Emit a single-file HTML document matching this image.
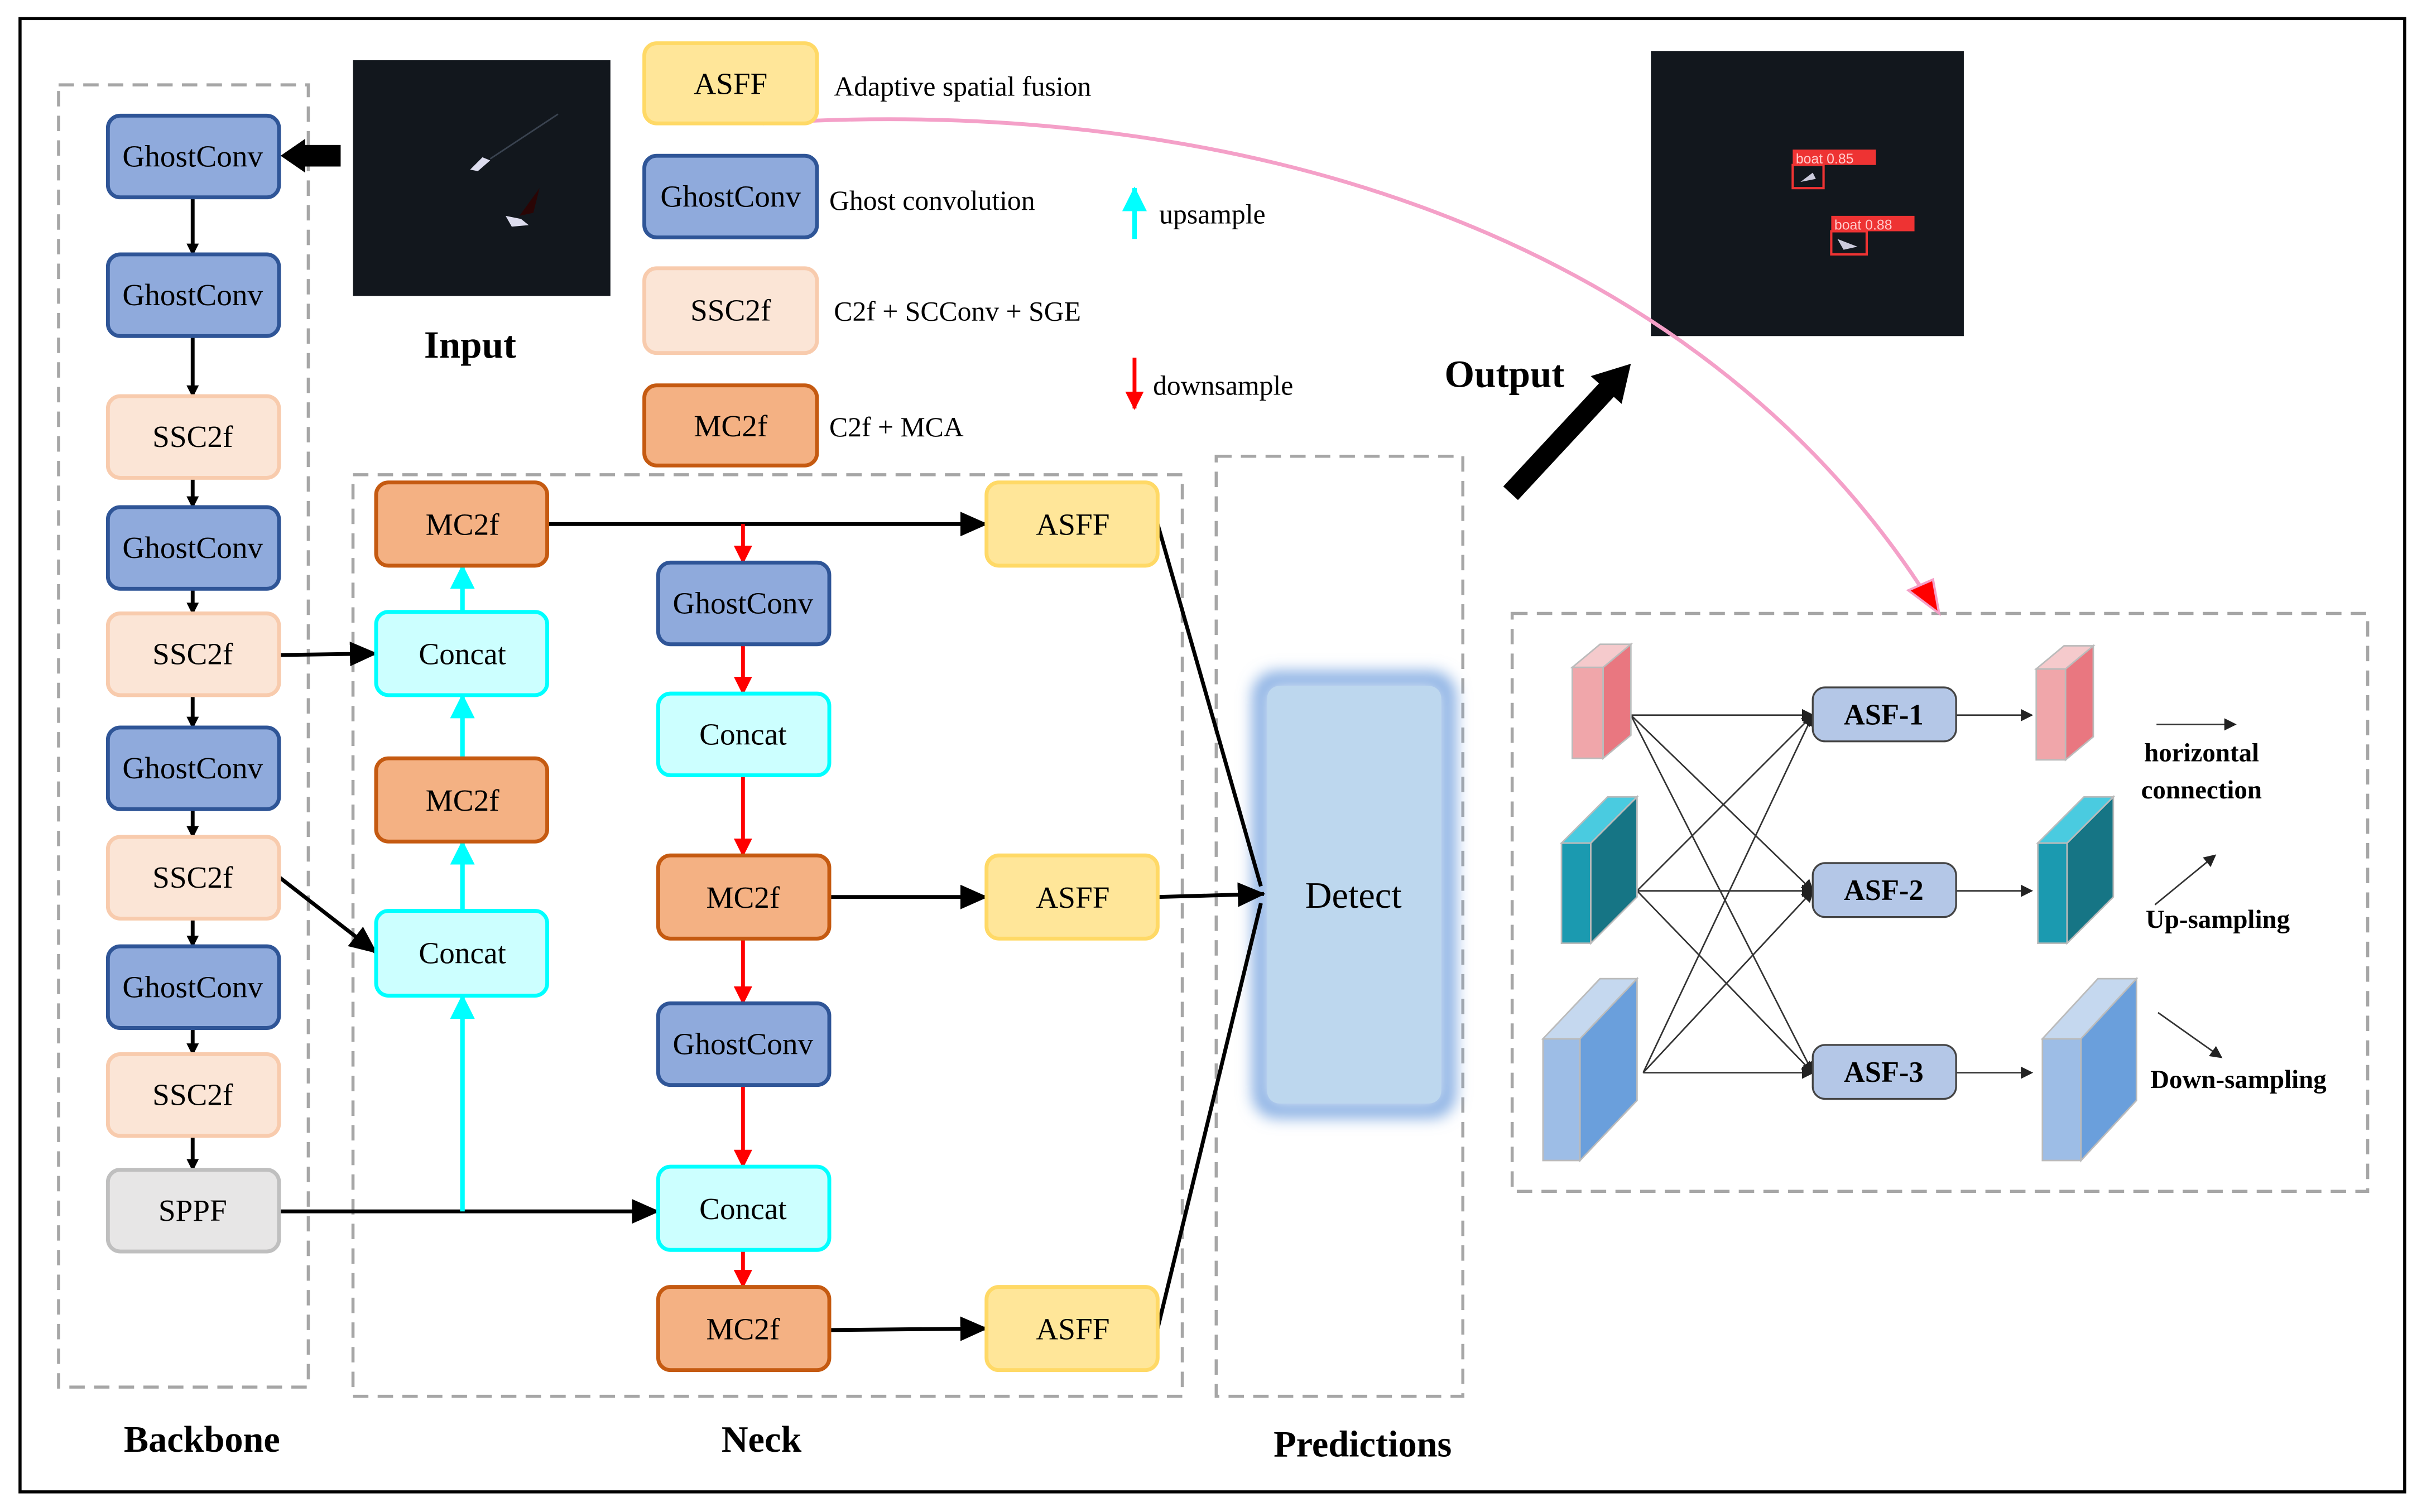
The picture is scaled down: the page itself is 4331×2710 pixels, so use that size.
<!DOCTYPE html>
<html><head><meta charset="utf-8"><style>html,body{margin:0;padding:0;background:#fff}svg{display:block}</style></head><body>
<svg width="4331" height="2710" viewBox="0 0 1568 981" xmlns="http://www.w3.org/2000/svg" font-family="Liberation Serif, serif">
<defs>
<marker id="ab" markerWidth="8" markerHeight="8" refX="7" refY="4" orient="auto" markerUnits="userSpaceOnUse"><path d="M0,0 L8,4 L0,8 Z" fill="#000"/></marker>
<marker id="abL" markerWidth="18" markerHeight="16" refX="17" refY="8" orient="auto" markerUnits="userSpaceOnUse"><path d="M0,0 L18,8 L0,16 Z" fill="#000"/></marker>
<marker id="ar" markerWidth="12" markerHeight="12" refX="11" refY="6" orient="auto" markerUnits="userSpaceOnUse"><path d="M0,0 L12,6 L0,12 Z" fill="#f00"/></marker>
<marker id="ac" markerWidth="16" markerHeight="16" refX="15" refY="8" orient="auto" markerUnits="userSpaceOnUse"><path d="M0,0 L16,8 L0,16 Z" fill="#0ff"/></marker>
<marker id="as" markerWidth="8" markerHeight="8" refX="7" refY="4" orient="auto" markerUnits="userSpaceOnUse"><path d="M0,0 L8,4 L0,8 Z" fill="#222"/></marker>
<filter id="glow" x="-30%" y="-30%" width="160%" height="160%"><feGaussianBlur stdDeviation="5"/></filter>
</defs>
<rect x="13" y="12" width="1547" height="956" fill="none" stroke="#000" stroke-width="2"/>
<g fill="none" stroke="#a6a6a6" stroke-width="2" stroke-dasharray="10,6">
<rect x="38" y="55" width="162" height="845"/>
<rect x="229" y="308" width="538" height="598"/>
<rect x="789" y="296" width="160" height="610"/>
<rect x="981" y="398" width="555" height="375"/>
</g>
<!-- images -->
<rect x="229" y="39" width="167" height="153" fill="#12171d"/>
<path d="M305,110 L313,102 L318,104 L310,111Z" fill="#dde"/><path d="M318,103 L362,74" stroke="#3a4350" stroke-width="1"/>
<path d="M328,140 L338,142 L343,146 L332,147Z" fill="#dde"/><path d="M337,140 L350,122 L346,138Z" fill="#2a0505"/>
<rect x="1071" y="33" width="203" height="185" fill="#12171d"/>
<rect x="1163" y="97" width="54" height="10" fill="#e33"/><text x="1165" y="106" font-family="Liberation Sans, sans-serif" font-size="9" fill="#fcc">boat 0.85</text>
<rect x="1163" y="107" width="20" height="15" fill="none" stroke="#e33" stroke-width="1.5"/>
<rect x="1188" y="140" width="54" height="10" fill="#e33"/><text x="1190" y="149" font-family="Liberation Sans, sans-serif" font-size="9" fill="#fcc">boat 0.88</text>
<rect x="1188" y="150" width="23" height="15" fill="none" stroke="#e33" stroke-width="1.5"/>
<path d="M1168,118 L1176,112 L1178,116Z" fill="#ccd"/><path d="M1192,155 L1205,160 L1196,162Z" fill="#ccd"/>
<text x="305" y="232" font-size="25" font-weight="bold" text-anchor="middle">Input</text>
<text x="976" y="251" font-size="25" font-weight="bold" text-anchor="middle">Output</text>
<path d="M980,320 L1045,250" stroke="#000" stroke-width="13"/><path d="M1058,236 L1032,244 L1052,262Z" fill="#000"/>
<!-- pink curve -->
<path d="M495,80 C800,60 1100,150 1252,390" fill="none" stroke="#f4a0c8" stroke-width="2.5"/>
<path d="M1258,398 L1238,383 L1254,376Z" fill="#f00" stroke="#f4a0c8" stroke-width="1.5"/>
<!-- predictions -->
<rect x="818" y="441" width="121" height="279" rx="10" fill="none" stroke="#7aa6e0" stroke-width="10" filter="url(#glow)"/>
<rect x="822" y="445" width="113" height="271" rx="8" fill="#bdd7ee"/>
<text x="878" y="589" font-size="24" text-anchor="middle">Detect</text>
<!-- connectors -->
<g stroke="#000" stroke-width="2.5" fill="none" marker-end="url(#ab)">
<line x1="125" y1="128" x2="125" y2="165"/><line x1="125" y1="218" x2="125" y2="257"/><line x1="125" y1="310" x2="125" y2="329"/>
<line x1="125" y1="382" x2="125" y2="398"/><line x1="125" y1="451" x2="125" y2="472"/><line x1="125" y1="525" x2="125" y2="543"/>
<line x1="125" y1="596" x2="125" y2="614"/><line x1="125" y1="667" x2="125" y2="684"/><line x1="125" y1="737" x2="125" y2="759"/>
</g>
<g stroke="#000" stroke-width="2.5" fill="none" marker-end="url(#abL)">
<line x1="181" y1="425" x2="244" y2="424"/>
<line x1="181" y1="569" x2="244" y2="618"/>
<line x1="181" y1="786" x2="427" y2="786"/>
<line x1="355" y1="340" x2="640" y2="340"/>
<line x1="538" y1="582" x2="640" y2="582"/>
<line x1="538" y1="863" x2="640" y2="862"/>
<line x1="751" y1="582" x2="820" y2="580"/>
</g>
<g stroke="#000" stroke-width="2.5" fill="none">
<line x1="751" y1="340" x2="818" y2="575"/>
<line x1="751" y1="862" x2="818" y2="586"/>
</g>
<g stroke="#0ff" stroke-width="3" fill="none" marker-end="url(#ac)">
<line x1="300" y1="786" x2="300" y2="646"/><line x1="300" y1="591" x2="300" y2="546"/>
<line x1="300" y1="492" x2="300" y2="451"/><line x1="300" y1="397" x2="300" y2="367"/>
<line x1="736" y1="155" x2="736" y2="122"/>
</g>
<g stroke="#f00" stroke-width="2.5" fill="none" marker-end="url(#ar)">
<line x1="482" y1="340" x2="482" y2="365"/><line x1="482" y1="418" x2="482" y2="450"/>
<line x1="482" y1="503" x2="482" y2="555"/><line x1="482" y1="609" x2="482" y2="651"/>
<line x1="482" y1="704" x2="482" y2="757"/><line x1="482" y1="811" x2="482" y2="835"/>
<line x1="736" y1="232" x2="736" y2="265"/>
</g>
<!-- boxes -->
<g font-size="20" text-anchor="middle" stroke-width="2.5">
<g fill="#8faadc" stroke="#2f5597">
<rect x="70" y="75" width="111" height="53" rx="8"/><rect x="70" y="165" width="111" height="53" rx="8"/>
<rect x="70" y="329" width="111" height="53" rx="8"/><rect x="70" y="472" width="111" height="53" rx="8"/>
<rect x="70" y="614" width="111" height="53" rx="8"/><rect x="427" y="365" width="111" height="53" rx="8"/>
<rect x="427" y="651" width="111" height="53" rx="8"/><rect x="418" y="101" width="112" height="53" rx="8"/>
</g>
<g fill="#fbe5d6" stroke="#f8cbad">
<rect x="70" y="257" width="111" height="53" rx="8"/><rect x="70" y="398" width="111" height="53" rx="8"/>
<rect x="70" y="543" width="111" height="53" rx="8"/><rect x="70" y="684" width="111" height="53" rx="8"/>
<rect x="418" y="174" width="112" height="55" rx="8"/>
</g>
<rect x="70" y="759" width="111" height="53" rx="8" fill="#e7e6e6" stroke="#bfbfbf"/>
<g fill="#f4b183" stroke="#c55a11">
<rect x="244" y="313" width="111" height="54" rx="8"/><rect x="244" y="492" width="111" height="54" rx="8"/>
<rect x="427" y="555" width="111" height="54" rx="8"/><rect x="427" y="835" width="111" height="54" rx="8"/>
<rect x="418" y="250" width="112" height="52" rx="8"/>
</g>
<g fill="#ccffff" stroke="#00ffff">
<rect x="244" y="397" width="111" height="54" rx="8"/><rect x="244" y="591" width="111" height="55" rx="8"/>
<rect x="427" y="450" width="111" height="53" rx="8"/><rect x="427" y="757" width="111" height="54" rx="8"/>
</g>
<g fill="#ffe699" stroke="#ffd966">
<rect x="640" y="313" width="111" height="54" rx="8"/><rect x="640" y="555" width="111" height="54" rx="8"/>
<rect x="640" y="835" width="111" height="54" rx="8"/><rect x="418" y="28" width="112" height="52" rx="8"/>
</g>
<g fill="#000" stroke="none">
<text x="125" y="108">GhostConv</text><text x="125" y="198">GhostConv</text><text x="125" y="290">SSC2f</text>
<text x="125" y="362">GhostConv</text><text x="125" y="431">SSC2f</text><text x="125" y="505">GhostConv</text>
<text x="125" y="576">SSC2f</text><text x="125" y="647">GhostConv</text><text x="125" y="717">SSC2f</text>
<text x="125" y="792">SPPF</text>
<text x="300" y="347">MC2f</text><text x="300" y="431">Concat</text><text x="300" y="526">MC2f</text><text x="300" y="625">Concat</text>
<text x="482" y="398">GhostConv</text><text x="482" y="483">Concat</text><text x="482" y="589">MC2f</text>
<text x="482" y="684">GhostConv</text><text x="482" y="791">Concat</text><text x="482" y="869">MC2f</text>
<text x="696" y="347">ASFF</text><text x="696" y="589">ASFF</text><text x="696" y="869">ASFF</text>
<text x="474" y="61">ASFF</text><text x="474" y="134">GhostConv</text><text x="474" y="208">SSC2f</text><text x="474" y="283">MC2f</text>
</g>
</g>
<!-- input arrow (drawn on top) -->
<rect x="196" y="94" width="25" height="14" fill="#000"/>
<path d="M182,101 L198,90 L198,112Z" fill="#000"/>
<g font-size="18" fill="#000">
<text x="541" y="62">Adaptive spatial fusion</text><text x="538" y="136">Ghost convolution</text>
<text x="541" y="208">C2f + SCConv + SGE</text><text x="538" y="283">C2f + MCA</text>
<text x="752" y="145">upsample</text><text x="748" y="256">downsample</text>
</g>
<g font-size="24" font-weight="bold" text-anchor="middle">
<text x="131" y="942">Backbone</text><text x="494" y="942">Neck</text><text x="884" y="945">Predictions</text>
</g>
<!-- ASF module -->
<g stroke="#333" stroke-width="1" fill="none" marker-end="url(#as)">
<line x1="1058" y1="464" x2="1176" y2="464"/><line x1="1058" y1="464" x2="1176" y2="578"/><line x1="1058" y1="464" x2="1176" y2="696"/>
<line x1="1062" y1="578" x2="1176" y2="464"/><line x1="1062" y1="578" x2="1176" y2="578"/><line x1="1062" y1="578" x2="1176" y2="696"/>
<line x1="1066" y1="696" x2="1176" y2="464"/><line x1="1066" y1="696" x2="1176" y2="578"/><line x1="1066" y1="696" x2="1176" y2="696"/>
<line x1="1269" y1="464" x2="1318" y2="464"/><line x1="1269" y1="578" x2="1318" y2="578"/><line x1="1269" y1="696" x2="1318" y2="696"/>
<line x1="1399" y1="470" x2="1450" y2="470"/><line x1="1398" y1="587" x2="1437" y2="555"/><line x1="1400" y1="657" x2="1441" y2="686"/>
</g>
<g stroke="#bbb" stroke-width="1">
<polygon points="1020,433 1040,433 1040,492 1020,492" fill="#f0a6aa"/><polygon points="1040,433 1058,418 1058,477 1040,492" fill="#e97780"/><polygon points="1020,433 1038,418 1058,418 1040,433" fill="#f5cacc"/>
<polygon points="1321,434 1340,434 1340,493 1321,493" fill="#f0a6aa"/><polygon points="1340,434 1358,419 1358,478 1340,493" fill="#e97780"/><polygon points="1321,434 1339,419 1358,419 1340,434" fill="#f5cacc"/>
<polygon points="1013,547 1032,547 1032,612 1013,612" fill="#1b9ab0"/><polygon points="1032,547 1062,517 1062,582 1032,612" fill="#167585"/><polygon points="1013,547 1043,517 1062,517 1032,547" fill="#4acbe0"/>
<polygon points="1322,547 1341,547 1341,612 1322,612" fill="#1b9ab0"/><polygon points="1341,547 1371,517 1371,582 1341,612" fill="#167585"/><polygon points="1322,547 1352,517 1371,517 1341,547" fill="#4acbe0"/>
<polygon points="1001,674 1025,674 1025,753 1001,753" fill="#9dbde6"/><polygon points="1025,674 1062,635 1062,714 1025,753" fill="#6a9fdc"/><polygon points="1001,674 1038,635 1062,635 1025,674" fill="#c5d8ef"/>
<polygon points="1325,674 1350,674 1350,753 1325,753" fill="#9dbde6"/><polygon points="1350,674 1386,635 1386,714 1350,753" fill="#6a9fdc"/><polygon points="1325,674 1361,635 1386,635 1350,674" fill="#c5d8ef"/>
</g>
<g fill="#b4c7e7" stroke="#444" stroke-width="1.2">
<rect x="1176" y="446" width="93" height="35" rx="8"/><rect x="1176" y="560" width="93" height="35" rx="8"/><rect x="1176" y="678" width="93" height="35" rx="8"/>
</g>
<g font-size="19" font-weight="bold" text-anchor="middle">
<text x="1222" y="470">ASF-1</text><text x="1222" y="584">ASF-2</text><text x="1222" y="702">ASF-3</text>
</g>
<g font-size="17" font-weight="bold">
<text x="1391" y="494">horizontal</text><text x="1389" y="518">connection</text>
<text x="1392" y="602">Up-sampling</text><text x="1395" y="706">Down-sampling</text>
</g>
</svg>
</body></html>
